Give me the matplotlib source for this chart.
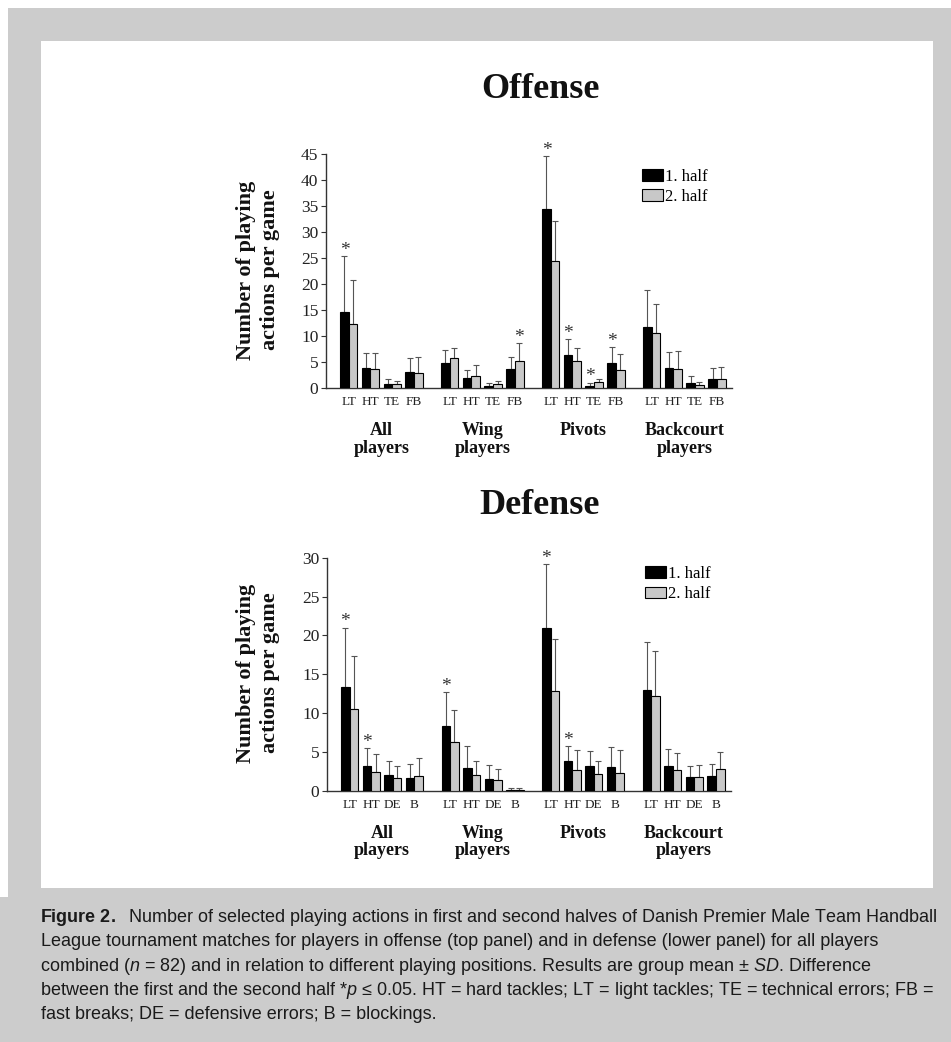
import matplotlib
matplotlib.use("Agg")
import matplotlib.pyplot as plt
import matplotlib.transforms as mtransforms
from matplotlib.patches import Rectangle, Patch
import numpy as np

# ---------------- data ----------------
groups = ["All\nplayers", "Wing\nplayers", "Pivots", "Backcourt\nplayers"]
off_cats = ["LT", "HT", "TE", "FB"]
def_cats = ["LT", "HT", "DE", "B"]
legend_labels = ["1. half", "2. half"]

# Offense (4 groups x 4 categories, flattened group by group)
off_h1 = [14.7, 3.8, 0.7, 3.1,   4.75, 2.0, 0.3, 3.7,   34.5, 6.35, 0.35, 4.9,   11.7, 3.8, 0.9, 1.7]
off_h1_sd = [10.7, 3.0, 1.1, 2.6,   2.5, 1.4, 0.7, 2.2,   10.1, 3.0, 0.65, 2.9,   7.15, 3.05, 1.4, 2.1]
off_h2 = [12.4, 3.7, 0.8, 2.9,   5.7, 2.3, 0.85, 5.25,   24.5, 5.25, 1.1, 3.4,   10.5, 3.7, 0.5, 1.75]
off_h2_sd = [8.4, 3.1, 0.6, 3.0,   2.05, 2.2, 0.55, 3.35,   7.6, 2.45, 0.6, 3.1,   5.6, 3.4, 0.7, 2.25]
off_star_h1 = [0, 8, 9, 10, 11]
off_star_h2 = [7]

# Defense
def_h1 = [13.4, 3.25, 2.1, 1.7,   8.35, 2.9, 1.6, 0.17,   20.9, 3.9, 3.2, 3.1,   13.0, 3.25, 1.8, 1.9]
def_h1_sd = [7.6, 2.25, 1.8, 1.8,   4.35, 2.9, 1.8, 0.23,   8.3, 1.9, 1.95, 2.5,   6.15, 2.1, 1.45, 1.6]
def_h2 = [10.6, 2.5, 1.67, 1.9,   6.3, 2.0, 1.37, 0.13,   12.8, 2.75, 2.14, 2.3,   12.2, 2.75, 1.75, 2.87]
def_h2_sd = [6.7, 2.2, 1.58, 2.35,   4.1, 1.85, 1.5, 0.27,   6.7, 2.55, 1.66, 3.0,   5.8, 2.1, 1.55, 2.1]
def_star_h1 = [0, 1, 4, 8, 9]
def_star_h2 = []

caption_lines = [
    r"$\mathbf{Figure\ 2.}$  Number of selected playing actions in first and second halves of Danish Premier Male Team Handball",
    "League tournament matches for players in offense (top panel) and in defense (lower panel) for all players",
    r"combined ($\mathit{n}$ = 82) and in relation to different playing positions. Results are group mean ± $\mathit{SD}$. Difference",
    r"between the first and the second half *$\mathit{p}$ ≤ 0.05. HT = hard tackles; LT = light tackles; TE = technical errors; FB =",
    "fast breaks; DE = defensive errors; B = blockings.",
]

# ---------------- style ----------------
W, H, DPI = 951, 1042, 100
BG_GRAY = "#cccccc"
BAR_GRAY = "#c8c8c8"
AX_COL = "#333333"
ERR_COL = "#555555"
GSTEP = 4.654
BW = 0.4

plt.rcParams['font.family'] = ['Liberation Serif', 'DejaVu Serif']
plt.rcParams['mathtext.fontset'] = 'custom'
plt.rcParams['mathtext.rm'] = 'Liberation Sans'
plt.rcParams['mathtext.it'] = 'Liberation Sans:italic'
plt.rcParams['mathtext.bf'] = 'Liberation Sans:bold'

fig = plt.figure(figsize=(W / DPI, H / DPI), dpi=DPI)
fig.patch.set_facecolor('white')


def fx(x):
    return x / W


def fy(y):
    return 1 - y / H


# background frame
fig.add_artist(Rectangle((fx(8), 0), 1 - fx(8), fy(8), transform=fig.transFigure,
                         facecolor=BG_GRAY, edgecolor='none', zorder=-10))
fig.add_artist(Rectangle((0, 0), fx(8), fy(897), transform=fig.transFigure,
                         facecolor=BG_GRAY, edgecolor='none', zorder=-10))
fig.add_artist(Rectangle((fx(41), fy(888)), fx(933) - fx(41), fy(41) - fy(888),
                         transform=fig.transFigure, facecolor='white', edgecolor='none', zorder=-9))


def panel(left, right, y0, ytop, ymax, cats, h1, s1, h2, s2, st1, st2,
          title, title_base, ylab_y, cat_base, grp_base1, grp_base2, leg_xy):
    ax = fig.add_axes([fx(left), fy(y0), fx(right) - fx(left), fy(ytop) - fy(y0)])
    ax.patch.set_alpha(0)
    x = np.array([g * GSTEP + c for g in range(len(groups)) for c in range(len(cats))])
    h1 = np.array(h1); h2 = np.array(h2)
    s1 = np.array(s1); s2 = np.array(s2)
    ax.bar(x - BW / 2, h1, BW, color='black', edgecolor='black', linewidth=0.8, zorder=3)
    ax.bar(x + BW / 2, h2, BW, color=BAR_GRAY, edgecolor='black', linewidth=0.8, zorder=3)
    z = np.zeros_like(h1)
    ax.errorbar(x - BW / 2, h1, yerr=[z, s1], fmt='none', ecolor=ERR_COL,
                elinewidth=0.8, capsize=2.5, capthick=0.8, zorder=2)
    ax.errorbar(x + BW / 2, h2, yerr=[z, s2], fmt='none', ecolor=ERR_COL,
                elinewidth=0.8, capsize=2.5, capthick=0.8, zorder=2)
    for i in st1:
        ax.annotate('*', xy=(x[i] - BW / 2, h1[i] + s1[i]), xytext=(0, 1),
                    textcoords='offset points', ha='center', va='baseline',
                    fontsize=14, color=AX_COL)
    for i in st2:
        ax.annotate('*', xy=(x[i] + BW / 2, h2[i] + s2[i]), xytext=(0, 1),
                    textcoords='offset points', ha='center', va='baseline',
                    fontsize=14, color=AX_COL)
    ax.set_xlim(-1.05, 17.66)
    ax.set_ylim(0, ymax)
    ax.set_yticks(np.arange(0, ymax + 1, 5))
    ax.set_xticks([])
    for sp in ['top', 'right']:
        ax.spines[sp].set_visible(False)
    for sp in ['left', 'bottom']:
        ax.spines[sp].set_color(AX_COL)
        ax.spines[sp].set_linewidth(1.0)
    ax.tick_params(axis='y', direction='out', length=3.5, width=0.8, colors=AX_COL,
                   labelsize=12.5, pad=2, labelcolor='#222222')
    trans = mtransforms.blended_transform_factory(ax.transData, fig.transFigure)
    for i, xi in enumerate(x):
        ax.text(xi, fy(cat_base), cats[i % len(cats)], transform=trans, ha='center',
                va='baseline', fontsize=9.5, color='#222222')
    for g, name in enumerate(groups):
        xc = g * GSTEP + (len(cats) - 1) / 2
        parts = name.split("\n")
        for j, p in enumerate(parts):
            ax.text(xc, fy(grp_base1 if j == 0 else grp_base2), p, transform=trans,
                    ha='center', va='baseline', fontsize=13, fontweight='bold', color='#111111')
    fig.text(fx(540), fy(title_base), title, ha='center', va='baseline',
             fontsize=26, fontweight='bold', color='#111111')
    fig.text(fx(258), fy(ylab_y), "Number of playing\nactions per game", rotation=90,
             ha='center', va='center', fontsize=16, fontweight='bold', linespacing=1.2,
             color='#111111')
    handles = [Patch(facecolor='black', edgecolor='black', linewidth=0.8),
               Patch(facecolor=BAR_GRAY, edgecolor='black', linewidth=0.8)]
    ax.legend(handles, legend_labels, loc='upper left',
              bbox_to_anchor=(fx(leg_xy[0]), fy(leg_xy[1])), bbox_transform=fig.transFigure,
              frameon=False, fontsize=12, handlelength=1.25, handleheight=0.7,
              handletextpad=0.15, labelspacing=0.25, borderpad=0, borderaxespad=0)
    return ax


panel(326, 732, 388, 154, 45, off_cats, off_h1, off_h1_sd, off_h2, off_h2_sd,
      off_star_h1, off_star_h2, "Offense", 98, 270, 405, 435, 453, (642, 169))
panel(327, 731, 791, 557.7, 30, def_cats, def_h1, def_h1_sd, def_h2, def_h2_sd,
      def_star_h1, def_star_h2, "Defense", 514, 673, 808, 838, 855, (645, 566))

for i, line in enumerate(caption_lines):
    x0 = 40 if '$' in line else 41
    fig.text(fx(x0), fy(922 + 24.3 * i), line, ha='left', va='baseline',
             fontsize=12.95, family='Liberation Sans', color='#1a1a1a')

fig.savefig("out.png", dpi=DPI, facecolor=fig.get_facecolor())
